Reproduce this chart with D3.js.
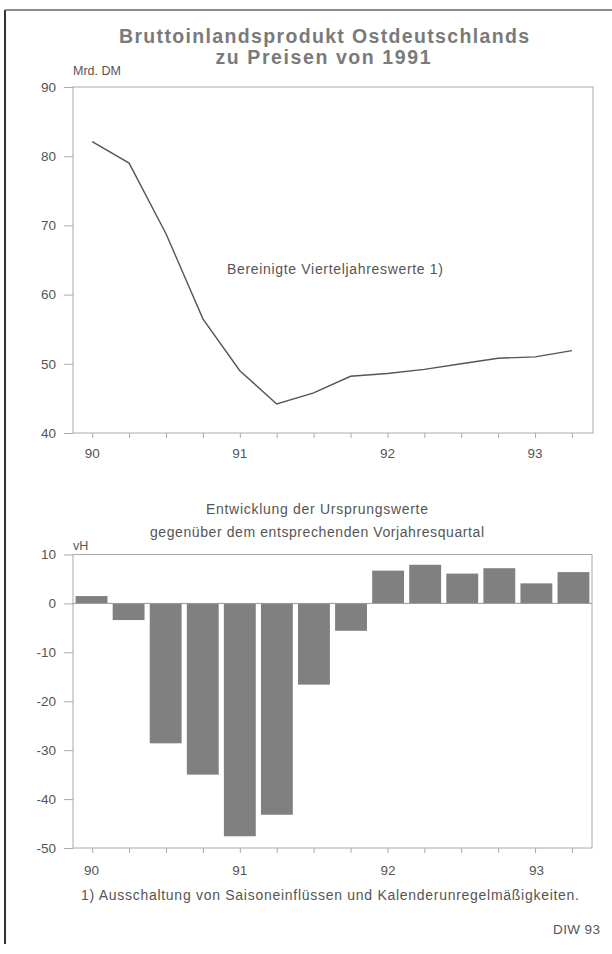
<!DOCTYPE html>
<html>
<head>
<meta charset="utf-8">
<script src="https://cdn.jsdelivr.net/npm/d3@7"></script>
<style>
  body { margin: 0; background: #fff; }
  svg { display: block; font-family: 'Liberation Sans', Arial, sans-serif; }
</style>
</head>
<body>
<svg width="612" height="954"></svg>
<script>
const width = 612,
  height = 954;
const svg = d3.select('svg');

// Quarters, labelled at the first quarter of each year
const quarters = d3.range(14);
const yearLabels = ['90', '91', '92', '93'];
const yearIndex = [0, 4, 8, 12];

// Seasonally adjusted quarterly values, Mrd. DM
const gdpValues = [82.1, 79.0, 68.8, 56.5, 49.0, 44.2, 45.8, 48.2, 48.6, 49.2, 50.0, 50.8, 51.0, 51.9];

// Change against the same quarter of the previous year, vH
const changeValues = [1.5, -3.4, -28.6, -35.0, -47.6, -43.2, -16.6, -5.6, 6.7, 7.9, 6.1, 7.2, 4.1, 6.4];

const topTicks = [40, 50, 60, 70, 80, 90];
const bottomTicks = [-50, -40, -30, -20, -10, 0, 10];

const textColor = '#555';
const axisColor = '#aaa';

// small helper for the widely spaced scanned labels
function label(sel, x, y, str, size, len, anchor = 'middle') {
  const t = sel.append('text')
    .attr('x', x)
    .attr('y', y)
    .attr('text-anchor', anchor)
    .attr('font-size', size)
    .attr('fill', textColor)
    .text(str);
  if (len) t.attr('textLength', len).attr('lengthAdjust', 'spacing');
  return t;
}

// Outer frame
svg.append('line').attr('x1', 5).attr('x2', 5).attr('y1', 10).attr('y2', 944)
  .attr('stroke', '#333').attr('stroke-width', 2);
svg.append('line').attr('x1', 5).attr('x2', 612).attr('y1', 10).attr('y2', 10)
  .attr('stroke', '#666').attr('stroke-width', 1.5);

// Title
label(svg, 324, 43, 'Bruttoinlandsprodukt Ostdeutschlands', 19.5, 410)
  .attr('font-weight', 'bold').attr('fill', '#7a7a7a');
label(svg, 323, 64, 'zu Preisen von 1991', 19.5, 215)
  .attr('font-weight', 'bold').attr('fill', '#7a7a7a');

// ---------- Top chart: line ----------
const x = d3.scaleLinear().domain([-0.52, 13.57]).range([73, 593]);
const y = d3.scaleLinear().domain([40, 90]).range([433, 87]);

const lineChart = svg.append('g');

lineChart.append('rect').attr('x', 73).attr('y', 87).attr('width', 520).attr('height', 346)
  .attr('fill', 'none').attr('stroke', axisColor).attr('stroke-width', 1);

lineChart.append('g')
  .attr('transform', 'translate(73,0)')
  .call(d3.axisLeft(y).tickValues(topTicks).tickSize(9).tickPadding(8).tickFormat((d) => String(d)))
  .call((g) => g.select('.domain').remove())
  .call((g) => g.selectAll('line').attr('stroke', axisColor))
  .call((g) => g.selectAll('text').attr('fill', textColor).attr('font-size', 13.5)
    .attr('font-family', 'Liberation Sans, Arial, sans-serif'));

lineChart.append('g')
  .attr('transform', 'translate(0,433)')
  .call(d3.axisBottom(x).tickValues(quarters).tickSize(5).tickFormat(''))
  .call((g) => g.select('.domain').remove())
  .call((g) => g.selectAll('line').attr('stroke', axisColor));

lineChart.append('g').selectAll('text')
  .data(yearIndex)
  .join('text')
  .attr('x', (d) => x(d))
  .attr('y', 458)
  .attr('text-anchor', 'middle')
  .attr('font-size', 13.5)
  .attr('fill', textColor)
  .text((d, i) => yearLabels[i]);

label(lineChart, 73, 75, 'Mrd. DM', 12.5, null, 'start');

lineChart.append('path')
  .datum(gdpValues)
  .attr('fill', 'none')
  .attr('stroke', '#555')
  .attr('stroke-width', 1.4)
  .attr('d', d3.line().x((d, i) => x(i)).y((d) => y(d)));

label(lineChart, 335, 274, 'Bereinigte Vierteljahreswerte 1)', 14, 216);

// ---------- Bottom chart: bars ----------
const xb = d3.scaleBand().domain(quarters).range([73, 592]).paddingInner(0.14).paddingOuter(0.07);
const yb = d3.scaleLinear().domain([-50, 10]).range([848, 554.5]);

const barChart = svg.append('g');

label(barChart, 317, 514, 'Entwicklung der Ursprungswerte', 14, 222);
label(barChart, 317, 537, 'gegenüber dem entsprechenden Vorjahresquartal', 14, 334);
label(barChart, 73, 550, 'vH', 12.5, null, 'start');

barChart.append('rect').attr('x', 73).attr('y', yb(10)).attr('width', 519).attr('height', yb(-50) - yb(10))
  .attr('fill', 'none').attr('stroke', axisColor).attr('stroke-width', 1);

barChart.append('g')
  .attr('transform', 'translate(73,0)')
  .call(d3.axisLeft(yb).tickValues(bottomTicks).tickSize(9).tickPadding(8).tickFormat((d) => String(d)))
  .call((g) => g.select('.domain').remove())
  .call((g) => g.selectAll('line').attr('stroke', axisColor))
  .call((g) => g.selectAll('text').attr('fill', textColor).attr('font-size', 13.5)
    .attr('font-family', 'Liberation Sans, Arial, sans-serif'));

barChart.append('g').selectAll('rect')
  .data(changeValues)
  .join('rect')
  .attr('x', (d, i) => xb(i))
  .attr('width', xb.bandwidth())
  .attr('y', (d) => yb(Math.max(0, d)))
  .attr('height', (d) => Math.abs(yb(d) - yb(0)))
  .attr('fill', '#808080');

barChart.append('line').attr('x1', 73).attr('x2', 592).attr('y1', yb(0)).attr('y2', yb(0))
  .attr('stroke', '#999').attr('stroke-width', 1);

barChart.append('g')
  .attr('transform', `translate(0,${yb(-50)})`)
  .call(d3.axisBottom(x).tickValues(quarters).tickSize(5).tickFormat(''))
  .call((g) => g.select('.domain').remove())
  .call((g) => g.selectAll('line').attr('stroke', axisColor));

barChart.append('g').selectAll('text')
  .data(yearIndex)
  .join('text')
  .attr('x', (d) => xb(d) + xb.bandwidth() / 2)
  .attr('y', 875)
  .attr('text-anchor', 'middle')
  .attr('font-size', 13.5)
  .attr('fill', textColor)
  .text((d, i) => yearLabels[i]);

// Footnote and source
label(svg, 330, 900, '1) Ausschaltung von Saisoneinflüssen und Kalenderunregelmäßigkeiten.', 14, 498);
label(svg, 600, 934, 'DIW 93', 13.5, 47, 'end');
</script>
</body>
</html>
